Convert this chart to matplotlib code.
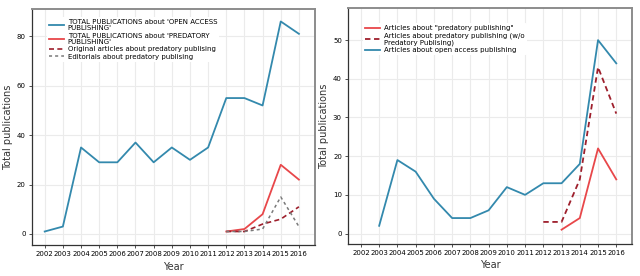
import matplotlib.pyplot as plt

# data
years = list(range(2002, 2017))

# left panel
oa_total = [1, 3, 35, 29, 29, 37, 29, 35, 30, 35, 55, 55, 52, 86, 81]
pred_years = [2012, 2013, 2014, 2015, 2016]
pred_total = [1, 2, 8, 28, 22]
pred_original = [1, 1, 4, 6, 11]
pred_editorials = [1, 1, 2, 15, 3]

# right panel
oa_years_r = list(range(2003, 2017))
oa_articles = [2, 19, 16, 9, 4, 4, 6, 12, 10, 13, 13, 18, 50, 44]
pred_years_r = [2013, 2014, 2015, 2016]
pred_articles = [1, 4, 22, 14]
pred_wo_years = [2012, 2013, 2014, 2015, 2016]
pred_wo = [3, 3, 14, 43, 31]

blue = '#3389ad'
red = '#e8474a'
darkred = '#9e1f2c'
grey = '#7a7a7a'

fig = plt.figure(figsize=(6.4, 2.76), dpi=100)
ax1 = fig.add_axes([0.05, 0.112, 0.442, 0.855])
ax2 = fig.add_axes([0.544, 0.116, 0.444, 0.855])


def style(ax, yticks, ylim):
    ax.set_xlim(2001.3, 2016.88)
    ax.set_ylim(*ylim)
    ax.set_xticks(years)
    ax.set_xticklabels([str(y) for y in years])
    ax.set_yticks(yticks)
    ax.grid(True, color='#ebebeb', linewidth=0.8)
    ax.set_axisbelow(True)
    for s in ax.spines.values():
        s.set_color('#8c8c8c')
        s.set_linewidth(1.4)
    ax.spines['left'].set_color('#333333')
    ax.spines['bottom'].set_color('#333333')
    ax.spines['left'].set_linewidth(0.9)
    ax.spines['bottom'].set_linewidth(0.9)
    ax.tick_params(labelsize=5, length=2.5, width=0.6, color='#333333', pad=2)
    ax.set_xlabel('Year', fontsize=7, color='#333333', labelpad=3)
    ax.set_ylabel('Total publications', fontsize=7, color='#333333', labelpad=3)


ax1.plot(years, oa_total, color=blue, lw=1.3,
         label="TOTAL PUBLICATIONS about 'OPEN ACCESS\nPUBLISHING'")
ax1.plot(pred_years, pred_total, color=red, lw=1.3,
         label="TOTAL PUBLICATIONS about 'PREDATORY\nPUBLISHING'")
ax1.plot(pred_years, pred_original, color=darkred, lw=1.2, ls=(0, (3, 2)),
         label='Original articles about predatory publising')
ax1.plot(pred_years, pred_editorials, color=grey, lw=1.1, ls=(0, (2, 2)),
         label='Editorials about predatory publising')
style(ax1, [0, 20, 40, 60, 80], (-4.5, 91))
leg1 = ax1.legend(loc='upper left', bbox_to_anchor=(0.04, 0.98), fontsize=5,
                  frameon=True, framealpha=1, edgecolor='none', handlelength=2.2,
                  handletextpad=0.5, labelspacing=0.2, borderpad=0.3)
for t in leg1.get_texts():
    t.set_linespacing(1.0)

ax2.plot(pred_years_r, pred_articles, color=red, lw=1.3,
         label='Articles about "predatory publishing"')
ax2.plot(pred_wo_years, pred_wo, color=darkred, lw=1.3, ls=(0, (3, 2)),
         label='Articles about predatory publishing (w/o\nPredatory Publising)')
ax2.plot(oa_years_r, oa_articles, color=blue, lw=1.3,
         label='Articles about open access publishing')
style(ax2, [0, 10, 20, 30, 40, 50], (-2.7, 58.3))
leg2 = ax2.legend(loc='upper left', bbox_to_anchor=(0.04, 0.95), fontsize=5,
                  frameon=True, framealpha=1, edgecolor='none', handlelength=2.2,
                  handletextpad=0.5, labelspacing=0.2, borderpad=0.3)
for t in leg2.get_texts():
    t.set_linespacing(1.0)

fig.savefig('out.png', dpi=100)
